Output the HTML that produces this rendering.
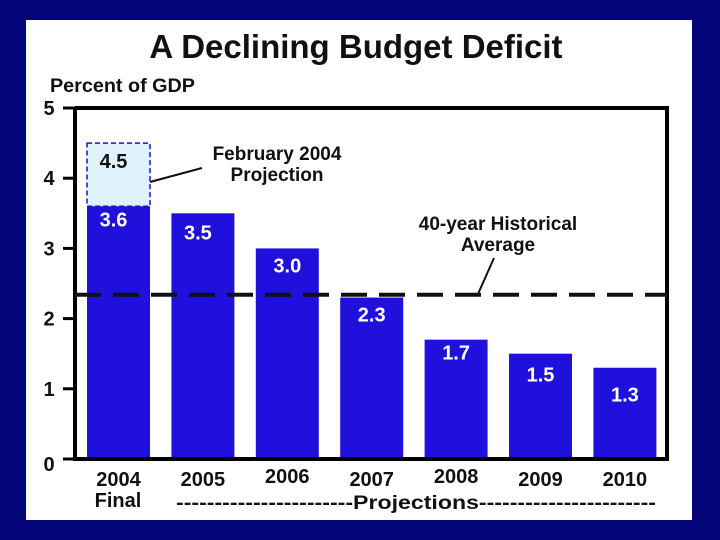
<!DOCTYPE html>
<html><head><meta charset="utf-8"><style>
body{margin:0;background:#05057a;}
svg{display:block;font-family:"Liberation Sans",Arial,sans-serif;font-weight:bold;}
</style></head><body>
<svg width="720" height="540">
<rect x="0" y="0" width="720" height="540" fill="#05057a"/>
<rect x="26" y="20" width="666" height="500" fill="#fff"/>
<text x="356" y="58" font-size="33" text-anchor="middle" fill="#111">A Declining Budget Deficit</text>
<text x="50" y="92" font-size="19" fill="#111" textLength="145" lengthAdjust="spacingAndGlyphs">Percent of GDP</text>
<g id="plot"></g>
</svg>
<script>
const categories=["2004","2005","2006","2007","2008","2009","2010"];
const values=[3.6,3.5,3.0,2.3,1.7,1.5,1.3];
const labels=["3.6","3.5","3.0","2.3","1.7","1.5","1.3"];
const projection=[4.5];
const average=[2.34];
const yTicks=[0,1,2,3,4,5];
const NS="http://www.w3.org/2000/svg";
const g=document.getElementById('plot');
const x0=75,x1=667,y0=459,yTop=108;
const y=v=>y0-(y0-yTop)*v/5;
const xb=i=>87+i*84.4;
const bw=63;
function el(t,a,txt){const e=document.createElementNS(NS,t);for(const k in a)e.setAttribute(k,a[k]);if(txt!==undefined)e.textContent=txt;g.appendChild(e);return e;}
let e=el('rect',{x:xb(0),y:y(projection[0]),width:bw,height:y(values[0])-y(projection[0]),fill:'#dff2fc',stroke:'#1a12c8','stroke-width':1.5,'stroke-dasharray':'5,3'});


e=el('text',{x:xb(0)+bw/2-5,y:y(projection[0])+25,'font-size':20,'text-anchor':'middle',fill:'#111'},"4.5");


values.forEach((v,i)=>{
 let r=el('rect',{x:xb(i),y:y(v),width:bw,height:y0-y(v),fill:'#2010dc'});
 
 
 const off=[20,26,24,24,20,28,34][i];
 let t=el('text',{x:xb(i)+bw/2-(i==0||i==1?5:0),y:y(v)+off,'font-size':20,'text-anchor':'middle',fill:'#fff'},labels[i]);
 
 
 const ly=[486,486,483,486,483,486,486][i];
 t=el('text',{x:xb(i)+bw/2,y:ly,'font-size':20,'text-anchor':'middle',fill:'#111'},categories[i]);
 
 
});
e=el('polyline',{points:`${x0},${yTop} ${x0},${y0} ${x1},${y0} ${x1},${yTop} ${x0},${yTop}`,fill:'none',stroke:'#000','stroke-width':4});


yTicks.forEach(v=>{
 let l=el('line',{x1:63,x2:x0,y1:y(v),y2:y(v),stroke:'#000','stroke-width':3});
 
 
 let t=el('text',{x:49,y:y(v)+(v==0?12:7),'font-size':20,'text-anchor':'middle',fill:'#111'},String(v));
 
 
});
e=el('line',{x1:x0,x2:x1,y1:y(average[0]),y2:y(average[0]),stroke:'#111','stroke-width':4,'stroke-dasharray':'26,12'});


e=el('text',{x:498,y:230,'font-size':19,'text-anchor':'middle',fill:'#111'},"40-year Historical");


e=el('text',{x:498,y:251,'font-size':19,'text-anchor':'middle',fill:'#111'},"Average");


e=el('line',{x1:494,y1:258,x2:478,y2:294,stroke:'#111','stroke-width':2});


e=el('text',{x:277,y:160,'font-size':19,'text-anchor':'middle',fill:'#111'},"February 2004");


e=el('text',{x:277,y:181,'font-size':19,'text-anchor':'middle',fill:'#111'},"Projection");


e=el('line',{x1:150,y1:182,x2:202,y2:168,stroke:'#111','stroke-width':2});


e=el('text',{x:118,y:507,'font-size':20,'text-anchor':'middle',fill:'#111'},"Final");


e=el('text',{x:416,y:509,'font-size':19,'text-anchor':'middle',fill:'#111',textLength:480,lengthAdjust:'spacingAndGlyphs'},"-----------------------Projections-----------------------");


</script>
</body></html>
